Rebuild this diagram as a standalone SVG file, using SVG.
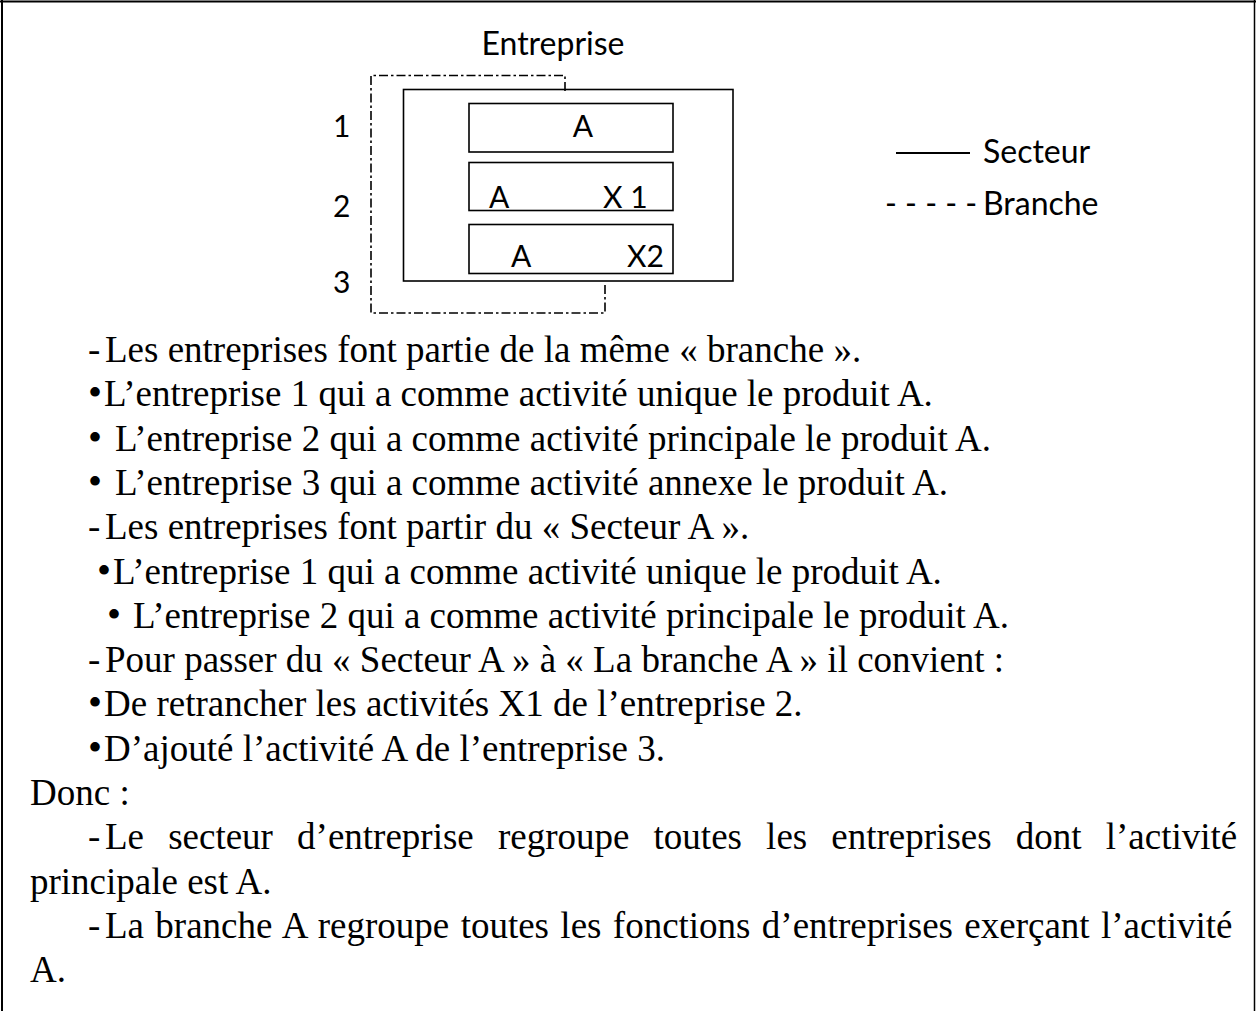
<svg xmlns="http://www.w3.org/2000/svg" width="1256" height="1011" viewBox="0 0 1256 1011">
<style>
.t{font-family:"Liberation Serif","Times New Roman",serif;font-size:37px;fill:#000}
.b{font-size:40px}
.s{font-family:Lato,"Liberation Sans",sans-serif;font-size:30px;fill:#000}
.l{font-size:32px}
.box{fill:#fff;stroke:#000;stroke-width:1.6}
.br{fill:none;stroke:#000;stroke-width:1.6;stroke-dasharray:9 3 2.5 3}
</style>
<rect width="1256" height="1011" fill="#fff"/>
<g id="frame" stroke="#000" stroke-width="2">
<line x1="0" y1="1.5" x2="1256" y2="1.5"/>
<line x1="2" y1="0" x2="2" y2="1011"/>
<line x1="1254.5" y1="0" x2="1254.5" y2="1011" stroke-width="1.5"/>
</g>
<g id="secteur">
<rect class="box" x="403.5" y="89.5" width="329.5" height="191.5"/>
</g>
<g id="connectors">
<path class="br" d="M565,91 V75.5 H371 V313 H605 V283"/>
</g>
<g id="entreprise-1">
<rect class="box" x="469" y="103.5" width="204" height="48.5"/>
<text class="s" x="583" y="137" text-anchor="middle">A</text>
</g>
<g id="entreprise-2">
<rect class="box" x="469" y="162.5" width="204" height="48"/>
<text class="s" x="489" y="208">A</text>
<text class="s" x="603" y="208">X 1</text>
</g>
<g id="entreprise-3">
<rect class="box" x="469" y="224.5" width="204" height="49"/>
<text class="s" x="511" y="267">A</text>
<text class="s" x="627" y="267">X2</text>
</g>
<g id="labels">
<text class="s l" x="553" y="55" text-anchor="middle">Entreprise</text>
<text class="s" x="333" y="137">1</text>
<text class="s" x="333" y="217">2</text>
<text class="s" x="333" y="293">3</text>
</g>
<g id="legend">
<line x1="896" y1="153" x2="970" y2="153" stroke="#000" stroke-width="2"/>
<text class="s l" x="983" y="163">Secteur</text>
<text class="s l" x="885" y="215">- - - - - <tspan x="983">Branche</tspan></text>
</g>
<g id="body">
<text class="t" y="362"><tspan x="88">-</tspan><tspan x="105">Les entreprises font partie de la même « branche ».</tspan></text>
<text class="t" y="406.3"><tspan x="88" class="b">•</tspan><tspan x="104">L’entreprise 1 qui a comme activité unique le produit A.</tspan></text>
<text class="t" y="450.6"><tspan x="88" class="b">•</tspan><tspan x="115">L’entreprise 2 qui a comme activité principale le produit A.</tspan></text>
<text class="t" y="494.9"><tspan x="88" class="b">•</tspan><tspan x="115">L’entreprise 3 qui a comme activité annexe le produit A.</tspan></text>
<text class="t" y="539.2"><tspan x="88">-</tspan><tspan x="105">Les entreprises font partir du « Secteur A ».</tspan></text>
<text class="t" y="583.5"><tspan x="97" class="b">•</tspan><tspan x="113">L’entreprise 1 qui a comme activité unique le produit A.</tspan></text>
<text class="t" y="627.8"><tspan x="107" class="b">•</tspan><tspan x="133">L’entreprise 2 qui a comme activité principale le produit A.</tspan></text>
<text class="t" y="672.1"><tspan x="88">-</tspan><tspan x="105">Pour passer du « Secteur A » à « La branche A » il convient :</tspan></text>
<text class="t" y="716.4"><tspan x="88" class="b">•</tspan><tspan x="104">De retrancher les activités X1 de l’entreprise 2.</tspan></text>
<text class="t" y="760.7"><tspan x="88" class="b">•</tspan><tspan x="104">D’ajouté l’activité A de l’entreprise 3.</tspan></text>
<text class="t" x="30" y="805">Donc :</text>
<text class="t" y="849.3"><tspan x="88">-</tspan><tspan x="105" word-spacing="14.9">Le secteur d’entreprise regroupe toutes les entreprises dont l’activité</tspan></text>
<text class="t" x="30" y="893.6">principale est A.</text>
<text class="t" y="937.9"><tspan x="88">-</tspan><tspan x="105" word-spacing="2.1">La branche A regroupe toutes les fonctions d’entreprises exerçant l’activité</tspan></text>
<text class="t" x="30" y="982.2">A.</text>
</g>
</svg>
